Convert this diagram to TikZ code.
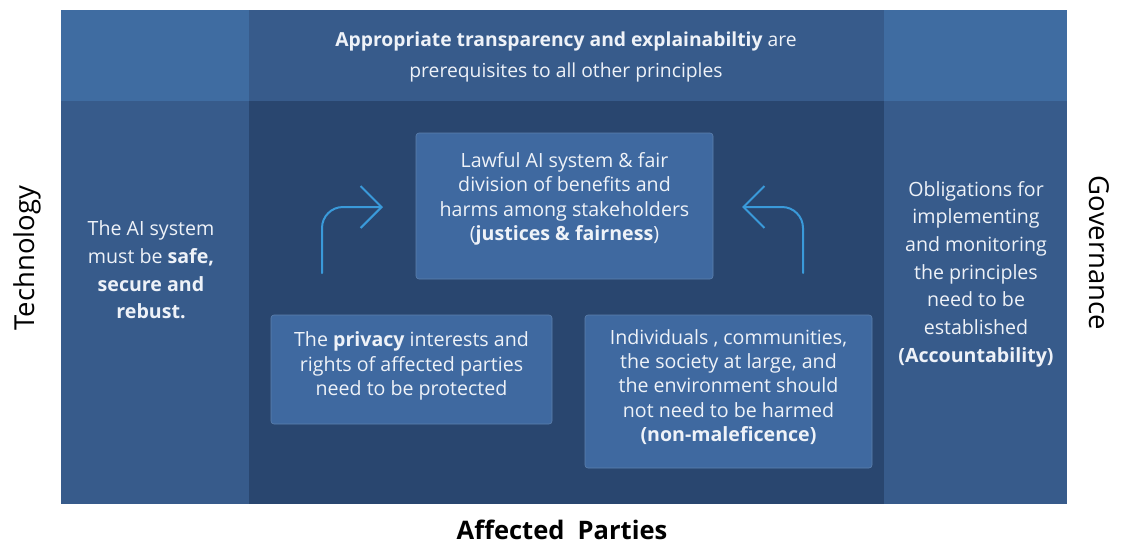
\documentclass[tikz,border=0pt]{standalone}
\usepackage{fontspec}
\setmainfont{Open Sans}
\usetikzlibrary{arrows.meta}
\definecolor{cornerblue}{HTML}{3F6CA1}
\definecolor{bandblue}{HTML}{375B8B}
\definecolor{coreblue}{HTML}{29466F}
\definecolor{boxblue}{HTML}{3F69A0}
\definecolor{arrowblue}{HTML}{3A9ADA}
\definecolor{softwhite}{HTML}{EEF2F8}
\tikzset{
  x=1pt, y=-1pt,
  region/.style={fill=#1, draw=none, inner sep=0pt, outer sep=0pt},
  card/.style={fill=boxblue, draw=boxblue!85!white, line width=0.6pt, rounded corners=3pt, inner sep=0pt},
  cardtext/.style={text=softwhite, align=center, inner sep=0pt, font=\fontsize{19.6}{24.3}\selectfont},
  sidetext/.style={text=softwhite, align=center, inner sep=0pt, font=\fontsize{19.6}{27.7}\selectfont},
  axislabel/.style={text=black, inner sep=0pt, font=\fontsize{27.5}{30}\selectfont},
  flow/.style={draw=arrowblue, line width=2pt, rounded corners=21pt, line cap=round,
               -{Straight Barb[length=21pt, width=42pt, line width=2pt]}}
}
\begin{document}
\begin{tikzpicture}
\useasboundingbox (0,0) rectangle (1128,544);

% background regions of the grid
\path[region=coreblue]   (61,10) rectangle (1067,504);
\path[region=bandblue]   (249,10) rectangle (884,101);
\path[region=cornerblue] (61,10) rectangle (249,101);
\path[region=cornerblue] (884,10) rectangle (1067,101);
\path[region=bandblue]   (61,101) rectangle (249,504);
\path[region=bandblue]   (884,101) rectangle (1067,504);

\coordinate (top)   at (566,57);
\coordinate (left)  at (151,270);
\coordinate (right) at (976,274);

% principle cards
\path[card] (416,133) rectangle (713,279);
\path[card] (271,315) rectangle (552,424);
\path[card] (585,315) rectangle (872,468);
\coordinate (justice) at (564.5,199);
\coordinate (privacy) at (411.5,366);
\coordinate (harm)    at (728.5,387);

% texts
\node[cardtext, font=\fontsize{19.3}{31}\selectfont] (ttop) at (top)
  {\textbf{Appropriate transparency and explainabiltiy} are\\prerequisites to all other principles};
\node[sidetext] (tleft) at (left)
  {The AI system\\must be \textbf{safe,}\\\textbf{secure and}\\\textbf{rebust.}};
\node[sidetext] (tright) at (right)
  {Obligations for\\implementing\\and monitoring\\the principles\\need to be\\established\\\textbf{(Accountability)}};
\node[cardtext] (tjustice) at (justice)
  {Lawful AI system \& fair\\division of benefits and\\harms among stakeholders\\(\textbf{justices \& fairness})};
\node[cardtext] (tprivacy) at (privacy)
  {The \textbf{privacy} interests and\\rights of affected parties\\need to be protected};
\node[cardtext] (tharm) at (harm)
  {Individuals , communities,\\the society at large, and\\the environment should\\not need to be harmed\\\textbf{(non-maleficence)}};

% arrows pointing to the central card
\coordinate (la0) at (322,273);
\coordinate (la1) at (383,207);
\coordinate (ra0) at (803,273);
\coordinate (ra1) at (742,207);
\draw[flow] (la0) |- (la1);
\draw[flow] (ra0) |- (ra1);

% axis labels
\node[axislabel, rotate=90]  (tech) at (27,258) {Technology};
\node[axislabel, rotate=-90] (gov)  at (1099,253) {Governance};
\node[axislabel, font=\fontsize{25.5}{28}\selectfont\bfseries] (aff) at (562,530) {Affected~~Parties};
\end{tikzpicture}
\end{document}
